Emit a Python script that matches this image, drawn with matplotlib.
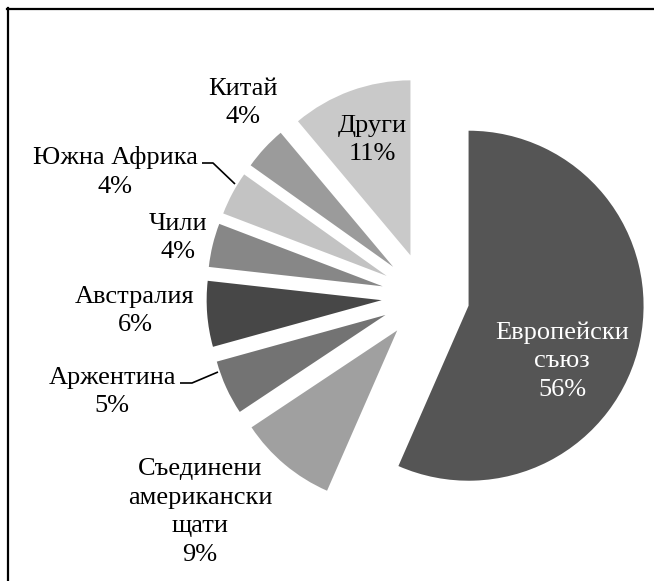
import matplotlib
matplotlib.use("Agg")
import matplotlib.pyplot as plt
from matplotlib.lines import Line2D

# ---- data ----
categories = ["Европейски\nсъюз", "Съединени\nамерикански\nщати", "Аржентина",
              "Австралия", "Чили", "Южна Африка", "Китай", "Други"]
values = [56, 9, 5, 6, 4, 4, 4, 11]
colors = ["#555555", "#a0a0a0", "#737373", "#474747", "#878787",
          "#c3c3c3", "#9b9b9b", "#c9c9c9"]

W, H = 654, 581
fig = plt.figure(figsize=(W / 100, H / 100), dpi=100)
ax = fig.add_axes([0, 0, 1, 1])
ax.set_xlim(0, W)
ax.set_ylim(0, H)
ax.set_aspect("equal")
ax.axis("off")

center = (425.5, H - 296.7)
radius = 175
explode = [44] * len(values)

ax.pie(values, colors=colors, startangle=90, counterclock=False,
       center=center, radius=radius, explode=explode,
       wedgeprops=dict(linewidth=0))
ax.set_xlim(0, W)
ax.set_ylim(0, H)

font = dict(family="Liberation Serif", fontsize=19, ha="center", va="center",
            linespacing=1.38)

# label block centres in pixel coordinates (x, y from top)
label_pos = [(562, 361), (200, 512), (112, 392), (135, 311),
             (178, 238), (115, 172), (243, 103), (372, 140)]
label_col = ["white"] + ["black"] * 7

for cat, v, (px, py), c in zip(categories, values, label_pos, label_col):
    ax.text(px, H - py, f"{cat}\n{v}%", color=c, **font)

# leader lines
def leader(pts):
    ax.plot([p[0] for p in pts], [H - p[1] for p in pts], color="black",
            lw=1.2, solid_capstyle="butt")

leader([(202, 163), (213, 163), (235, 184)])
leader([(180, 383), (192, 383), (218, 372)])

# outer frame (top and left edges visible)
fig.add_artist(Line2D([7 / W, 1.0], [1 - 9 / H, 1 - 9 / H],
                      transform=fig.transFigure, color="black", lw=1.6))
fig.add_artist(Line2D([8 / W, 8 / W], [0.0, 1 - 8 / H],
                      transform=fig.transFigure, color="black", lw=1.6))

fig.savefig("out.png", dpi=100, facecolor="white")
